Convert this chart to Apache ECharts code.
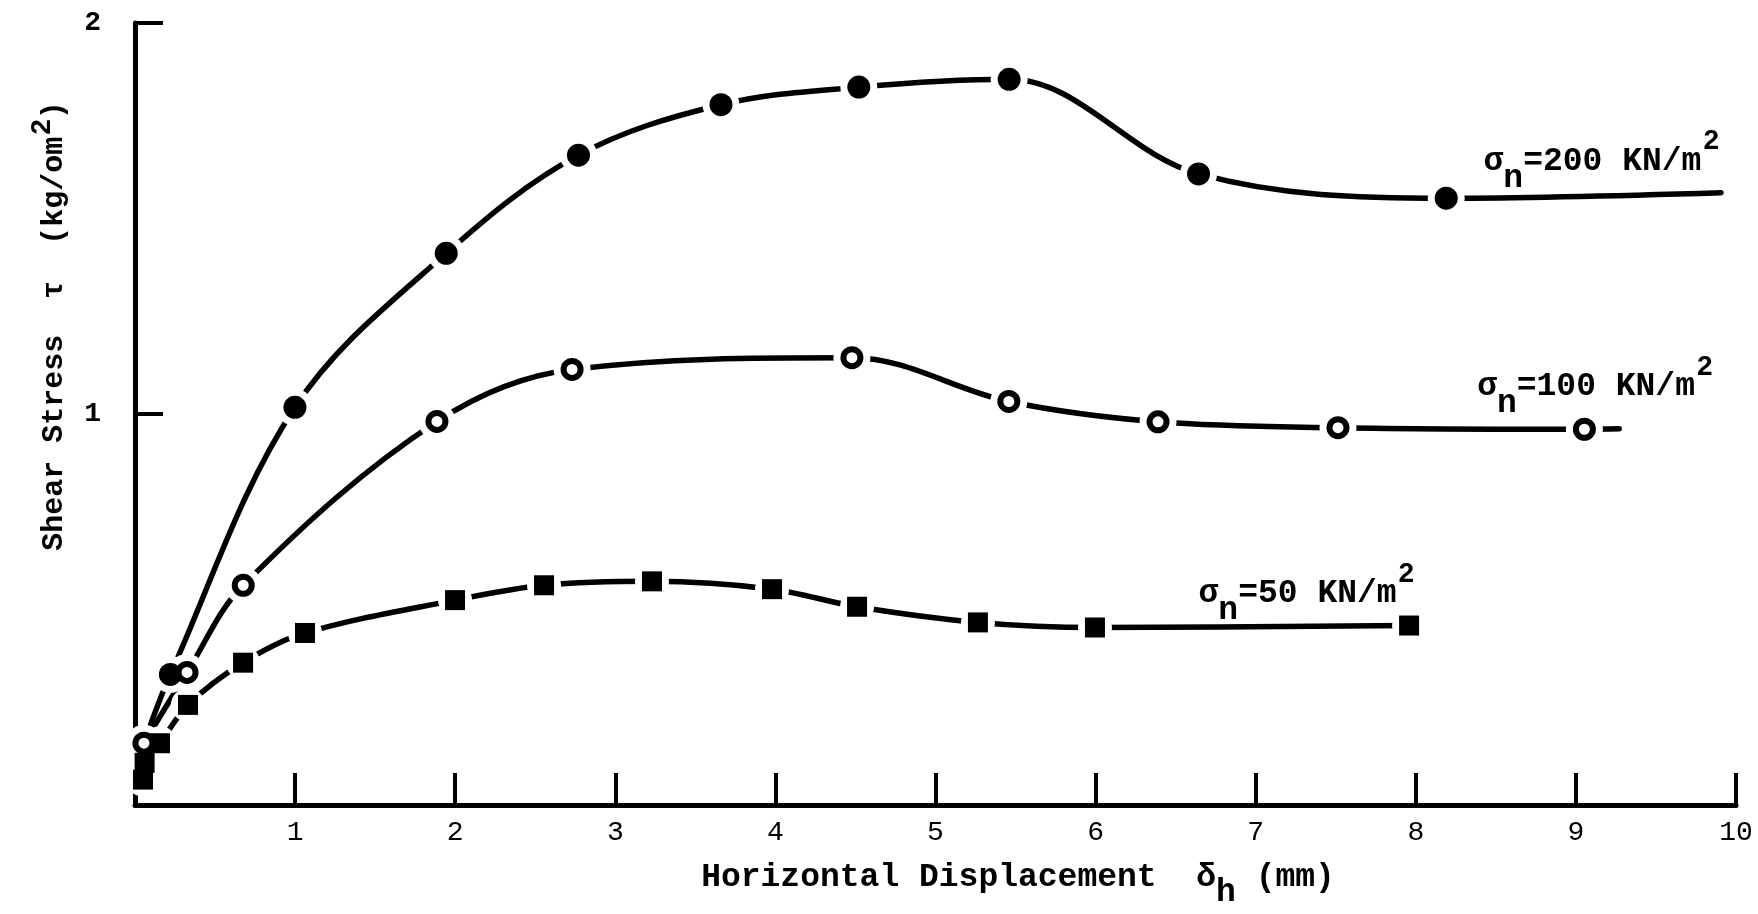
<!DOCTYPE html>
<html>
<head>
<meta charset="utf-8">
<script src="https://cdn.jsdelivr.net/npm/echarts@6/dist/echarts.min.js"></script>
<style>
html,body{margin:0;padding:0;background:#fff;}
#chart{width:1758px;height:914px;}
</style>
</head>
<body>
<div id="chart"></div>
<script>
// ---- data ----
const xTickValues = [0, 1, 2, 3, 4, 5, 6, 7, 8, 9, 10];
const yTickValues = [0, 1, 2];

// sigma_n = 200 kN/m2 (filled circles)
const s200X = [0.221, 0.999, 1.944, 2.770, 3.660, 4.521, 5.460, 6.643, 8.190];
const s200Y = [0.334, 1.017, 1.411, 1.662, 1.791, 1.836, 1.856, 1.614, 1.552];
const s200CurveStart = [0.056, 0.158];
const s200CurveEnd = [9.906, 1.566];

// sigma_n = 100 kN/m2 (open circles)
const s100X = [0.056, 0.325, 0.676, 1.886, 2.730, 4.478, 5.458, 6.390, 7.514, 9.053];
const s100Y = [0.158, 0.339, 0.562, 0.981, 1.114, 1.144, 1.032, 0.980, 0.965, 0.961];
const s100CurveEnd = [9.27, 0.962];

// sigma_n = 50 kN/m2 (filled squares)
const s50X = [0.050, 0.060, 0.156, 0.331, 0.675, 1.062, 1.999, 2.555, 3.229, 3.979, 4.510, 5.265, 5.996, 7.958];
const s50Y = [0.065, 0.108, 0.158, 0.256, 0.364, 0.440, 0.524, 0.562, 0.572, 0.552, 0.507, 0.467, 0.454, 0.459];

const seriesNames = ['σn=200 KN/m²', 'σn=100 KN/m²', 'σn=50 KN/m²'];
const labelValues = ['200', '100', '50'];

// ---- build ----
function pairs(xs, ys) { return xs.map((x, i) => [x, ys[i]]); }
const p200 = pairs(s200X, s200Y);
const p100 = pairs(s100X, s100Y);
const p50 = pairs(s50X, s50Y);
const line200 = [s200CurveStart].concat(p200, [s200CurveEnd]);
const line100 = p100.concat([s100CurveEnd]);
const line50 = p50.slice();

const MONO = '"Liberation Mono", "DejaVu Sans Mono", monospace';
const SANS = '"Liberation Sans", Arial, sans-serif';
const INK = '#000';

const labelRich = {
  sub: { fontFamily: MONO, fontSize: 33, fontWeight: 'bold', color: INK, padding: [34, 0, 0, 0] },
  sup: { fontFamily: SANS, fontSize: 28, color: INK, padding: [0, 0, 40, 2] }
};
function labelText(v) { return 'σ{sub|n}=' + v + ' KN/m{sup|2}'; }

function lineSeries(name, data) {
  return {
    name: name, type: 'line', data: data, z: 2,
    smooth: 0.35, showSymbol: false, symbol: 'none',
    lineStyle: { color: INK, width: 5.5, cap: 'round', opacity: 1 },
    silent: true, animation: false
  };
}
function haloSeries(data, size) {
  return {
    type: 'scatter', data: data, z: 3, symbol: 'circle', symbolSize: size,
    itemStyle: { color: '#fff', opacity: 1 }, silent: true, animation: false
  };
}
function markerSeries(name, data, symbol, size, itemStyle, labelCoord, labelValue) {
  return {
    name: name, type: 'scatter', data: data, z: 4, symbol: symbol, symbolSize: size,
    itemStyle: Object.assign({ opacity: 1 }, itemStyle), silent: true, animation: false,
    markPoint: {
      symbol: 'circle', symbolSize: 1, silent: true, animation: false,
      itemStyle: { color: 'rgba(0,0,0,0)' },
      label: {
        show: true, position: 'right', distance: 0,
        fontFamily: MONO, fontSize: 33, fontWeight: 'bold', color: INK,
        formatter: labelText(labelValue), rich: labelRich
      },
      data: [{ coord: labelCoord }]
    }
  };
}

const chart = echarts.init(document.getElementById('chart'), null, { renderer: 'canvas' });
chart.setOption({
  backgroundColor: '#fff',
  animation: false,
  grid: { left: 135, right: 22, top: 23, bottom: 96, containLabel: false },
  xAxis: {
    type: 'value', min: 0, max: 10, interval: 1,
    name: 'Horizontal Displacement  δ{sub|h} (mm)',
    nameLocation: 'middle', nameGap: 41,
    nameTextStyle: {
      fontFamily: MONO, fontSize: 33, fontWeight: 'bold', color: INK, padding: [0, 0, 0, 165],
      rich: { sub: { fontFamily: MONO, fontSize: 33, fontWeight: 'bold', color: INK, padding: [30, 0, 0, 0] } }
    },
    axisLine: { show: true, onZero: false, lineStyle: { color: INK, width: 5 } },
    axisTick: { show: true, inside: true, length: 32, lineStyle: { color: INK, width: 4 } },
    axisLabel: {
      margin: 14, fontFamily: MONO, fontSize: 28, color: INK,
      formatter: v => (xTickValues.indexOf(v) > 0 ? String(v) : '')
    },
    splitLine: { show: false }
  },
  yAxis: {
    type: 'value', min: 0, max: 2, interval: 1,
    name: 'Shear Stress  τ  (kg/om{sup|2})',
    nameLocation: 'middle', nameGap: 55, nameRotate: 90,
    nameTextStyle: {
      fontFamily: MONO, fontSize: 30, fontWeight: 'bold', color: INK, padding: [0, 0, 0, 176],
      rich: { sup: { fontFamily: SANS, fontSize: 28, color: INK, padding: [0, 0, 24, 2] } }
    },
    axisLine: { show: true, onZero: false, lineStyle: { color: INK, width: 5 } },
    axisTick: { show: true, inside: true, length: 28, lineStyle: { color: INK, width: 4 } },
    axisLabel: {
      margin: 34, fontFamily: MONO, fontSize: 28, fontWeight: 'bold', color: INK,
      padding: [4, 0, 0, 0],
      formatter: v => (yTickValues.indexOf(v) > 0 ? String(v) : '')
    },
    splitLine: { show: false }
  },
  series: [
    lineSeries(seriesNames[0], line200),
    lineSeries(seriesNames[1], line100),
    lineSeries(seriesNames[2], line50),
    haloSeries(p200, 37),
    haloSeries(p100, 37),
    haloSeries(p50, 34),
    markerSeries(seriesNames[0], p200, 'circle', 23, { color: INK }, [8.42, 1.646], labelValues[0]),
    markerSeries(seriesNames[1], p100, 'circle', 17, { color: '#fff', borderColor: INK, borderWidth: 6 }, [8.38, 1.069], labelValues[1]),
    markerSeries(seriesNames[2], p50, 'rect', 20, { color: INK }, [6.64, 0.540], labelValues[2])
  ]
});
</script>
</body>
</html>
